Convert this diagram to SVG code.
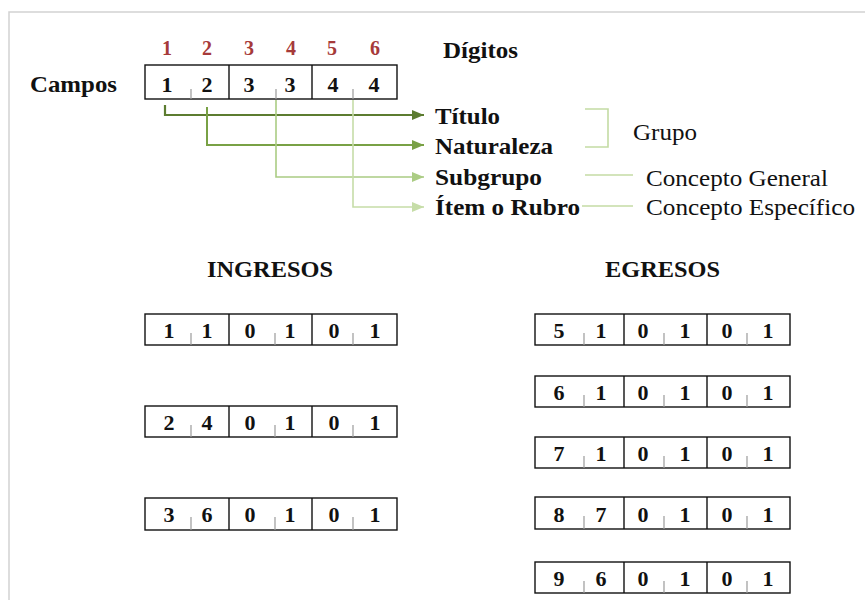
<svg xmlns="http://www.w3.org/2000/svg" width="865" height="600" viewBox="0 0 865 600">
<style>
.b{font-family:"Liberation Serif","DejaVu Serif","Times New Roman",serif;font-weight:bold;font-size:23px;fill:#111}
.r{font-family:"Liberation Serif","DejaVu Serif","Times New Roman",serif;font-size:23px;fill:#111}
.d{font-family:"Liberation Serif","DejaVu Serif","Times New Roman",serif;font-weight:bold;font-size:22px;fill:#111;text-anchor:middle}
.rd{font-family:"Liberation Serif","DejaVu Serif","Times New Roman",serif;font-weight:bold;font-size:20px;fill:#a63a3a;text-anchor:middle}
.box{fill:#fff;stroke:#111;stroke-width:1.4}
.div{stroke:#111;stroke-width:1.4}
.tick{stroke:#9a9a9a;stroke-width:1.2}
.lg{fill:none;stroke:#c4dba4;stroke-width:1.6}
</style>
<defs>
<marker id="a1" viewBox="0 0 12 10" refX="12" refY="5" markerWidth="12" markerHeight="10" markerUnits="userSpaceOnUse" orient="auto"><path d="M0,0 L12,5 L0,10 Z" fill="#5c7c30"/></marker>
<marker id="a2" viewBox="0 0 12 10" refX="12" refY="5" markerWidth="12" markerHeight="10" markerUnits="userSpaceOnUse" orient="auto"><path d="M0,0 L12,5 L0,10 Z" fill="#79a145"/></marker>
<marker id="a3" viewBox="0 0 12 10" refX="12" refY="5" markerWidth="12" markerHeight="10" markerUnits="userSpaceOnUse" orient="auto"><path d="M0,0 L12,5 L0,10 Z" fill="#abcc84"/></marker>
<marker id="a4" viewBox="0 0 12 10" refX="12" refY="5" markerWidth="12" markerHeight="10" markerUnits="userSpaceOnUse" orient="auto"><path d="M0,0 L12,5 L0,10 Z" fill="#c6dda8"/></marker>
</defs>
<rect width="865" height="600" fill="#fff"/>
<path d="M9,600 V12 H865" fill="none" stroke="#d2d2d2" stroke-width="1.5"/>

<g id="header">
<text class="rd" x="167" y="55">1</text><text class="rd" x="207" y="55">2</text><text class="rd" x="249" y="55">3</text><text class="rd" x="291" y="55">4</text><text class="rd" x="332" y="55">5</text><text class="rd" x="375" y="55">6</text>
<text class="b" x="443" y="58" textLength="75" lengthAdjust="spacingAndGlyphs">Dígitos</text>
<text class="b" x="30" y="92" textLength="87" lengthAdjust="spacingAndGlyphs">Campos</text>
</g>

<g id="campos-box">
<rect class="box" x="145" y="65" width="252" height="34"/>
<line class="div" x1="229" y1="65" x2="229" y2="99"/><line class="div" x1="312" y1="65" x2="312" y2="99"/>
<line class="tick" x1="191" y1="89" x2="191" y2="99"/><line class="tick" x1="276" y1="89" x2="276" y2="99"/><line class="tick" x1="353" y1="89" x2="353" y2="99"/>
<text class="d" x="167" y="92">1</text><text class="d" x="207" y="92">2</text><text class="d" x="249" y="92">3</text><text class="d" x="290" y="92">3</text><text class="d" x="333" y="92">4</text><text class="d" x="374" y="92">4</text>
</g>

<g id="connectors">
<path d="M165,105 V115 H424" fill="none" stroke="#5c7c30" stroke-width="2.2" marker-end="url(#a1)"/>
<path d="M207,107 V145 H424" fill="none" stroke="#79a145" stroke-width="2" marker-end="url(#a2)"/>
<path d="M276,100 V177 H424" fill="none" stroke="#abcc84" stroke-width="1.6" marker-end="url(#a3)"/>
<path d="M353,100 V207 H424" fill="none" stroke="#c6dda8" stroke-width="1.6" marker-end="url(#a4)"/>
<path class="lg" d="M585,109 H608 V147 H585"/>
<line class="lg" x1="585" y1="175" x2="633" y2="175"/>
<line class="lg" x1="582" y1="206" x2="633" y2="206"/>
</g>

<g id="titulo"><text class="b" x="435" y="124" textLength="65" lengthAdjust="spacingAndGlyphs">Título</text></g>
<g id="naturaleza"><text class="b" x="435" y="154" textLength="118" lengthAdjust="spacingAndGlyphs">Naturaleza</text></g>
<g id="subgrupo"><text class="b" x="435" y="185" textLength="107" lengthAdjust="spacingAndGlyphs">Subgrupo</text></g>
<g id="item"><text class="b" x="435" y="215" textLength="145" lengthAdjust="spacingAndGlyphs">Ítem o Rubro</text></g>
<g id="grupo"><text class="r" x="633" y="140" textLength="64" lengthAdjust="spacingAndGlyphs">Grupo</text></g>
<g id="concepto-general"><text class="r" x="646" y="186" textLength="182" lengthAdjust="spacingAndGlyphs">Concepto General</text></g>
<g id="concepto-especifico"><text class="r" x="646" y="215" textLength="209" lengthAdjust="spacingAndGlyphs">Concepto Específico</text></g>

<g id="ingresos-title"><text class="b" x="207" y="277" textLength="126" lengthAdjust="spacingAndGlyphs">INGRESOS</text></g>
<g id="egresos-title"><text class="b" x="605" y="277" textLength="115" lengthAdjust="spacingAndGlyphs">EGRESOS</text></g>

<g id="ing1">
<rect class="box" x="145" y="314" width="252" height="31"/>
<line class="div" x1="229" y1="314" x2="229" y2="345"/><line class="div" x1="312" y1="314" x2="312" y2="345"/>
<line class="tick" x1="191" y1="333" x2="191" y2="345"/><line class="tick" x1="275" y1="333" x2="275" y2="345"/><line class="tick" x1="353" y1="333" x2="353" y2="345"/>
<text class="d" x="169" y="338">1</text><text class="d" x="207" y="338">1</text><text class="d" x="250" y="338">0</text><text class="d" x="290" y="338">1</text><text class="d" x="334" y="338">0</text><text class="d" x="375" y="338">1</text>
</g>
<g id="ing2">
<rect class="box" x="145" y="406" width="252" height="31"/>
<line class="div" x1="229" y1="406" x2="229" y2="437"/><line class="div" x1="312" y1="406" x2="312" y2="437"/>
<line class="tick" x1="191" y1="425" x2="191" y2="437"/><line class="tick" x1="275" y1="425" x2="275" y2="437"/><line class="tick" x1="353" y1="425" x2="353" y2="437"/>
<text class="d" x="169" y="430">2</text><text class="d" x="207" y="430">4</text><text class="d" x="250" y="430">0</text><text class="d" x="290" y="430">1</text><text class="d" x="334" y="430">0</text><text class="d" x="375" y="430">1</text>
</g>
<g id="ing3">
<rect class="box" x="145" y="498" width="252" height="32"/>
<line class="div" x1="229" y1="498" x2="229" y2="530"/><line class="div" x1="312" y1="498" x2="312" y2="530"/>
<line class="tick" x1="191" y1="517" x2="191" y2="530"/><line class="tick" x1="275" y1="517" x2="275" y2="530"/><line class="tick" x1="353" y1="517" x2="353" y2="530"/>
<text class="d" x="169" y="522">3</text><text class="d" x="207" y="522">6</text><text class="d" x="250" y="522">0</text><text class="d" x="290" y="522">1</text><text class="d" x="334" y="522">0</text><text class="d" x="375" y="522">1</text>
</g>

<g id="egr1">
<rect class="box" x="535" y="314" width="255" height="31"/>
<line class="div" x1="624" y1="314" x2="624" y2="345"/><line class="div" x1="707" y1="314" x2="707" y2="345"/>
<line class="tick" x1="584" y1="333" x2="584" y2="345"/><line class="tick" x1="664" y1="333" x2="664" y2="345"/><line class="tick" x1="747" y1="333" x2="747" y2="345"/>
<text class="d" x="559" y="338">5</text><text class="d" x="601" y="338">1</text><text class="d" x="643" y="338">0</text><text class="d" x="685" y="338">1</text><text class="d" x="727" y="338">0</text><text class="d" x="768" y="338">1</text>
</g>
<g id="egr2">
<rect class="box" x="535" y="376" width="255" height="31"/>
<line class="div" x1="624" y1="376" x2="624" y2="407"/><line class="div" x1="707" y1="376" x2="707" y2="407"/>
<line class="tick" x1="584" y1="395" x2="584" y2="407"/><line class="tick" x1="664" y1="395" x2="664" y2="407"/><line class="tick" x1="747" y1="395" x2="747" y2="407"/>
<text class="d" x="559" y="400">6</text><text class="d" x="601" y="400">1</text><text class="d" x="643" y="400">0</text><text class="d" x="685" y="400">1</text><text class="d" x="727" y="400">0</text><text class="d" x="768" y="400">1</text>
</g>
<g id="egr3">
<rect class="box" x="535" y="437" width="255" height="31"/>
<line class="div" x1="624" y1="437" x2="624" y2="468"/><line class="div" x1="707" y1="437" x2="707" y2="468"/>
<line class="tick" x1="584" y1="456" x2="584" y2="468"/><line class="tick" x1="664" y1="456" x2="664" y2="468"/><line class="tick" x1="747" y1="456" x2="747" y2="468"/>
<text class="d" x="559" y="461">7</text><text class="d" x="601" y="461">1</text><text class="d" x="643" y="461">0</text><text class="d" x="685" y="461">1</text><text class="d" x="727" y="461">0</text><text class="d" x="768" y="461">1</text>
</g>
<g id="egr4">
<rect class="box" x="535" y="497" width="255" height="32"/>
<line class="div" x1="624" y1="497" x2="624" y2="529"/><line class="div" x1="707" y1="497" x2="707" y2="529"/>
<line class="tick" x1="584" y1="516" x2="584" y2="529"/><line class="tick" x1="664" y1="516" x2="664" y2="529"/><line class="tick" x1="747" y1="516" x2="747" y2="529"/>
<text class="d" x="559" y="522">8</text><text class="d" x="601" y="522">7</text><text class="d" x="643" y="522">0</text><text class="d" x="685" y="522">1</text><text class="d" x="727" y="522">0</text><text class="d" x="768" y="522">1</text>
</g>
<g id="egr5">
<rect class="box" x="535" y="562" width="255" height="31"/>
<line class="div" x1="624" y1="562" x2="624" y2="593"/><line class="div" x1="707" y1="562" x2="707" y2="593"/>
<line class="tick" x1="584" y1="581" x2="584" y2="593"/><line class="tick" x1="664" y1="581" x2="664" y2="593"/><line class="tick" x1="747" y1="581" x2="747" y2="593"/>
<text class="d" x="559" y="586">9</text><text class="d" x="601" y="586">6</text><text class="d" x="643" y="586">0</text><text class="d" x="685" y="586">1</text><text class="d" x="727" y="586">0</text><text class="d" x="768" y="586">1</text>
</g>
</svg>
